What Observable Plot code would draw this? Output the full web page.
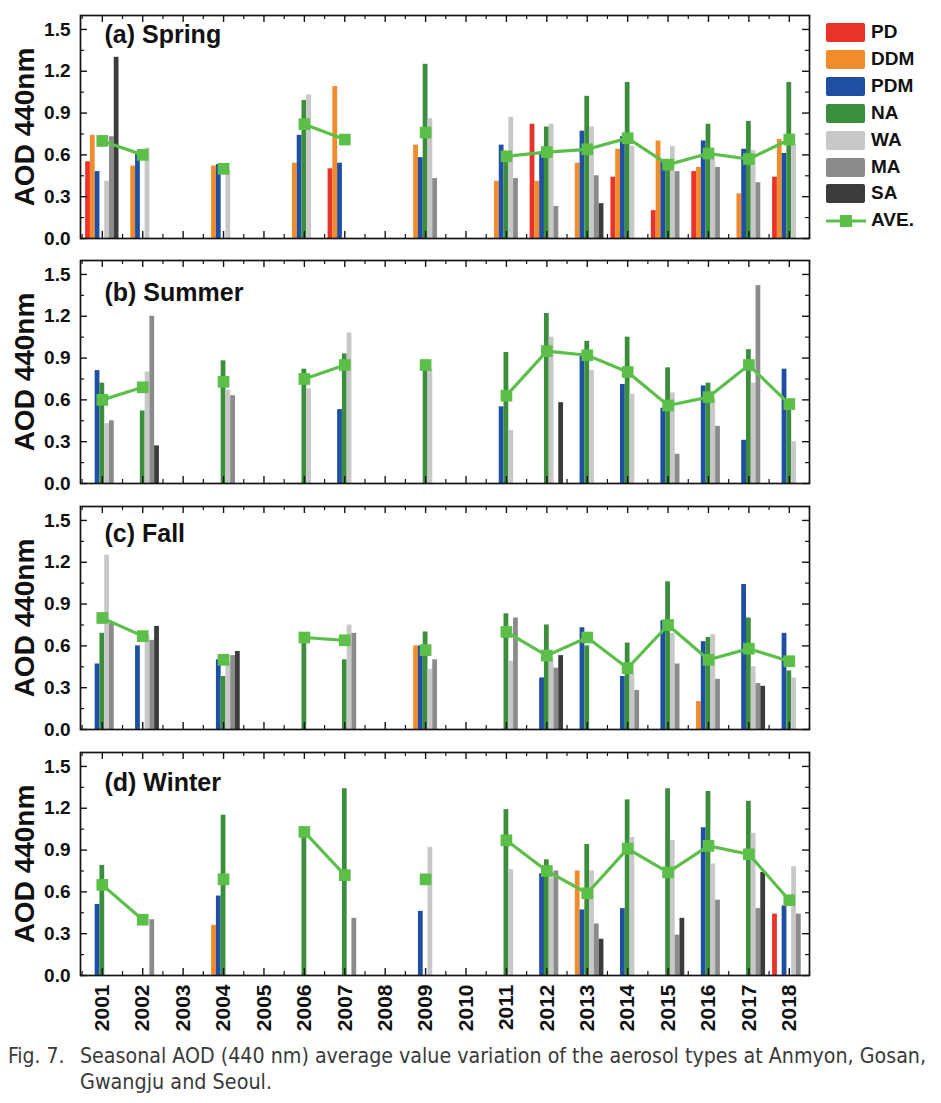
<!DOCTYPE html>
<html><head><meta charset="utf-8">
<script src="https://cdn.jsdelivr.net/npm/d3@7"></script>
<script src="https://cdn.jsdelivr.net/npm/@observablehq/plot@0.6"></script>
<style>
body{margin:0;background:#fff;}
#wrap{position:relative;width:941px;height:1103px;overflow:hidden;background:#fff;font-family:"Liberation Sans",Arial,Helvetica,sans-serif;}
.panel{position:absolute;left:0;}
.panel svg{overflow:visible;background:transparent;}
.leg{position:absolute;left:826px;height:20px;}
.sw{position:absolute;left:0;top:0;width:39px;height:19px;border-radius:2px;}
.lt{position:absolute;left:45px;top:-2px;font-weight:bold;font-size:19px;line-height:22px;color:#111;white-space:nowrap;}
.cap{position:absolute;font-family:"Liberation Sans Narrow","Arial Narrow","DejaVu Sans Condensed",sans-serif;font-size:21px;color:#3a3a3a;white-space:nowrap;transform-origin:0 50%;}
</style></head>
<body><div id="wrap"></div>
<script>
// ---------- data ----------
const years = [2001,2002,2003,2004,2005,2006,2007,2008,2009,2010,2011,2012,2013,2014,2015,2016,2017,2018];
const types = ["PD","DDM","PDM","NA","WA","MA","SA"];
const typeColors = ["#e8322a","#f28b2c","#1f4fa3","#3b8e3c","#c8c8c8","#8b8b8b","#3b3b3b"];
const aveColor = "#5cbf4a";
const yTicks = [0, 0.3, 0.6, 0.9, 1.2, 1.5];
const n = null;
//                 2001 2002 2003 2004 2005 2006 2007 2008 2009 2010 2011 2012 2013 2014 2015 2016 2017 2018
const springPD  = [0.55,n,   n,   n,   n,   n,   0.50,n,   n,   n,   n,   0.82,n,   0.44,0.20,0.48,n,   0.44];
const springDDM = [0.74,0.52,n,   0.52,n,   0.54,1.09,n,   0.67,n,   0.41,0.41,0.54,0.64,0.70,0.51,0.32,0.71];
const springPDM = [0.48,0.61,n,   0.53,n,   0.74,0.54,n,   0.58,n,   0.67,0.62,0.77,0.73,0.55,0.70,0.64,0.61];
const springNA  = [n,   n,   n,   n,   n,   0.99,n,   n,   1.25,n,   0.58,0.80,1.02,1.12,0.52,0.82,0.84,1.12];
const springWA  = [0.41,0.65,n,   0.49,n,   1.03,n,   n,   0.86,n,   0.87,0.82,0.80,0.66,0.66,0.57,0.63,0.68];
const springMA  = [0.73,n,   n,   n,   n,   n,   n,   n,   0.43,n,   0.43,0.23,0.45,n,   0.48,0.51,0.40,n   ];
const springSA  = [1.30,n,   n,   n,   n,   n,   n,   n,   n,   n,   n,   n,   0.25,n,   n,   n,   n,   n   ];
const springAVE = [0.70,0.60,n,   0.50,n,   0.82,0.71,n,   0.76,n,   0.59,0.62,0.64,0.72,0.53,0.61,0.57,0.71];

const summerPD  = [n,   n,   n,   n,   n,   n,   n,   n,   n,   n,   n,   n,   n,   n,   n,   n,   n,   n   ];
const summerDDM = [n,   n,   n,   n,   n,   n,   n,   n,   n,   n,   n,   n,   n,   n,   n,   n,   n,   n   ];
const summerPDM = [0.81,n,   n,   n,   n,   n,   0.53,n,   n,   n,   0.55,n,   0.92,0.71,0.54,0.70,0.31,0.82];
const summerNA  = [0.72,0.52,n,   0.88,n,   0.82,0.93,n,   0.83,n,   0.94,1.22,1.02,1.05,0.83,0.72,0.96,0.55];
const summerWA  = [0.43,0.80,n,   0.67,n,   0.68,1.08,n,   0.82,n,   0.38,1.05,0.81,0.64,0.65,0.61,0.72,0.30];
const summerMA  = [0.45,1.20,n,   0.63,n,   n,   n,   n,   n,   n,   n,   n,   n,   n,   0.21,0.41,1.42,n   ];
const summerSA  = [n,   0.27,n,   n,   n,   n,   n,   n,   n,   n,   n,   0.58,n,   n,   n,   n,   n,   n   ];
const summerAVE = [0.60,0.69,n,   0.73,n,   0.75,0.85,n,   0.85,n,   0.63,0.95,0.92,0.80,0.56,0.62,0.85,0.57];

const fallPD    = [n,   n,   n,   n,   n,   n,   n,   n,   n,   n,   n,   n,   n,   n,   n,   n,   n,   n   ];
const fallDDM   = [n,   n,   n,   n,   n,   n,   n,   n,   0.60,n,   n,   n,   n,   n,   n,   0.20,n,   n   ];
const fallPDM   = [0.47,0.60,n,   0.50,n,   n,   n,   n,   0.60,n,   n,   0.37,0.73,0.38,0.78,0.63,1.04,0.69];
const fallNA    = [0.69,n,   n,   0.38,n,   0.66,0.50,n,   0.70,n,   0.83,0.75,0.60,0.62,1.06,0.66,0.80,0.42];
const fallWA    = [1.25,0.67,n,   0.48,n,   n,   0.75,n,   0.43,n,   0.49,0.50,n,   0.40,0.69,0.68,0.45,0.37];
const fallMA    = [0.76,0.64,n,   0.53,n,   n,   0.69,n,   0.50,n,   0.80,0.44,n,   0.28,0.47,0.36,0.33,n   ];
const fallSA    = [n,   0.74,n,   0.56,n,   n,   n,   n,   n,   n,   n,   0.53,n,   n,   n,   n,   0.31,n   ];
const fallAVE   = [0.80,0.67,n,   0.50,n,   0.66,0.64,n,   0.57,n,   0.70,0.53,0.66,0.44,0.75,0.50,0.58,0.49];

const winterPD  = [n,   n,   n,   n,   n,   n,   n,   n,   n,   n,   n,   n,   n,   n,   n,   n,   n,   0.44];
const winterDDM = [n,   n,   n,   0.36,n,   n,   n,   n,   n,   n,   n,   n,   0.75,n,   n,   n,   n,   n   ];
const winterPDM = [0.51,n,   n,   0.57,n,   n,   n,   n,   0.46,n,   n,   0.73,0.47,0.48,n,   1.06,n,   0.50];
const winterNA  = [0.79,n,   n,   1.15,n,   1.04,1.34,n,   n,   n,   1.19,0.83,0.94,1.26,1.34,1.32,1.25,n   ];
const winterWA  = [n,   n,   n,   n,   n,   n,   n,   n,   0.92,n,   0.76,0.70,0.75,0.99,0.97,0.80,1.02,0.78];
const winterMA  = [n,   0.40,n,   n,   n,   n,   0.41,n,   n,   n,   n,   0.75,0.37,n,   0.29,0.54,0.48,0.44];
const winterSA  = [n,   n,   n,   n,   n,   n,   n,   n,   n,   n,   n,   n,   0.26,n,   0.41,n,   0.74,n   ];
const winterAVE = [0.65,0.40,n,   0.69,n,   1.03,0.72,n,   0.69,n,   0.97,0.75,0.59,0.91,0.74,0.93,0.87,0.54];

const panelTitles = ["(a) Spring","(b) Summer","(c) Fall","(d) Winter"];

// ---------- layout constants ----------
const W = 941, ML = 80, MR = 132, FH = 223, MT = 12;
const frameW = W - ML - MR;
const slot = 0.118;               // width of one type slot, in years
const xDomain = [2000.46, 2018.5];
const xMajor = years;
const xMinor = years.map(y => y - 0.5).concat([2018.5]);
const yMinor = [0.15, 0.45, 0.75, 1.05, 1.35];

const panels = [
  {series:[springPD,springDDM,springPDM,springNA,springWA,springMA,springSA], ave: springAVE, top: 15, titleDy: 19},
  {series:[summerPD,summerDDM,summerPDM,summerNA,summerWA,summerMA,summerSA], ave: summerAVE, top: 260, titleDy: 32},
  {series:[fallPD,fallDDM,fallPDM,fallNA,fallWA,fallMA,fallSA], ave: fallAVE, top: 506, titleDy: 27},
  {series:[winterPD,winterDDM,winterPDM,winterNA,winterWA,winterMA,winterSA], ave: winterAVE, top: 752, titleDy: 30}
];

const wrap = document.getElementById("wrap");

panels.forEach((p, pi) => {
  const rows = [];
  p.series.forEach((arr, t) => arr.forEach((v, k) => { if (v != null) rows.push({year: years[k], type: types[t], t, value: v}); }));
  const aveRows = years.map((y, k) => ({year: y, value: p.ave[k]}));
  const showX = pi === 3;
  const MB = showX ? 75 : 12;
  const stroke = "#141414";
  const marks = [
    Plot.rectY(rows, {x1: d => d.year + (d.t - 3.5) * slot, x2: d => d.year + (d.t - 2.5) * slot, y1: 0, y2: "value", fill: "type"}),
    Plot.line(aveRows, {x: "year", y: "value", stroke: aveColor, strokeWidth: 3.2}),
    Plot.dot(aveRows.filter(d => d.value != null), {x: "year", y: "value", symbol: "square", r: 6.6, fill: aveColor, stroke: "none"}),
    Plot.tickX(xMajor, {x: d => d, insetTop: FH - 7, stroke, strokeWidth: 1.4}),
    Plot.tickX(xMajor, {x: d => d, insetBottom: FH - 7, stroke, strokeWidth: 1.4}),
    Plot.tickX(xMinor, {x: d => d, insetTop: FH - 4, stroke, strokeWidth: 1.2}),
    Plot.tickX(xMinor, {x: d => d, insetBottom: FH - 4, stroke, strokeWidth: 1.2}),
    Plot.tickY(yTicks, {y: d => d, insetRight: frameW - 7, stroke, strokeWidth: 1.4}),
    Plot.tickY(yTicks, {y: d => d, insetLeft: frameW - 7, stroke, strokeWidth: 1.4}),
    Plot.tickY(yMinor, {y: d => d, insetRight: frameW - 4, stroke, strokeWidth: 1.2}),
    Plot.tickY(yMinor, {y: d => d, insetLeft: frameW - 4, stroke, strokeWidth: 1.2}),
    Plot.frame({stroke, strokeWidth: 1.7}),
    Plot.axisY(yTicks, {anchor: "left", tickSize: 0, tickPadding: 10, tickFormat: d => d.toFixed(1), fontSize: 19, fontWeight: "bold", fill: "#111", label: null}),
    Plot.text(["AOD 440nm"], {frameAnchor: "left", textAnchor: "middle", lineAnchor: "middle", rotate: -90, dx: -55, fontSize: 28, fontWeight: "bold", fill: "#111"}),
    Plot.text([panelTitles[pi]], {frameAnchor: "top-left", textAnchor: "start", lineAnchor: "middle", dx: 24, dy: p.titleDy, fontSize: 25, fontWeight: "bold", fill: "#111"})
  ];
  if (showX) marks.push(Plot.axisX(years, {anchor: "bottom", tickSize: 0, tickRotate: -90, tickPadding: 9, tickFormat: d => String(d), fontSize: 21, fontWeight: "bold", fill: "#111", label: null}));
  const chart = Plot.plot({
    width: W, height: MT + FH + MB,
    marginLeft: ML, marginRight: MR, marginTop: MT, marginBottom: MB,
    style: {fontFamily: "'Liberation Sans', Arial, sans-serif", fontWeight: "bold", background: "transparent", overflow: "visible"},
    x: {domain: xDomain, axis: null},
    y: {domain: [0, 1.6], axis: null},
    color: {domain: types, range: typeColors},
    marks
  });
  const div = document.createElement("div");
  div.className = "panel";
  div.style.top = (p.top - MT) + "px";
  div.appendChild(chart);
  wrap.appendChild(div);
});

// ---------- legend ----------
const legTop = 23, legStep = 26.9;
types.forEach((t, i) => {
  const d = document.createElement("div");
  d.className = "leg";
  d.style.top = (legTop + i * legStep) + "px";
  d.innerHTML = `<div class="sw" style="background:${typeColors[i]}"></div><div class="lt">${t}</div>`;
  wrap.appendChild(d);
});
{
  const d = document.createElement("div");
  d.className = "leg";
  d.style.top = (legTop + 7 * legStep) + "px";
  d.innerHTML = `<svg width="40" height="20" style="position:absolute;left:0;top:0"><line x1="0" y1="10" x2="40" y2="10" stroke="${aveColor}" stroke-width="3.2"/><rect x="14" y="4" width="12" height="12" fill="${aveColor}"/></svg><div class="lt">AVE.</div>`;
  wrap.appendChild(d);
}

// ---------- caption ----------
function cap(text, left, top, targetW) {
  const s = document.createElement("div");
  s.className = "cap";
  s.textContent = text;
  s.style.left = left + "px";
  s.style.top = top + "px";
  wrap.appendChild(s);
  if (targetW) {
    const w = s.getBoundingClientRect().width;
    s.style.transform = `scaleX(${targetW / w})`;
  }
  return s;
}
cap("Fig. 7.", 8, 1044);
cap("Seasonal AOD (440 nm) average value variation of the aerosol types at Anmyon, Gosan,", 80, 1044, 846);
cap("Gwangju and Seoul.", 80, 1070, 192);
</script>
</body></html>
